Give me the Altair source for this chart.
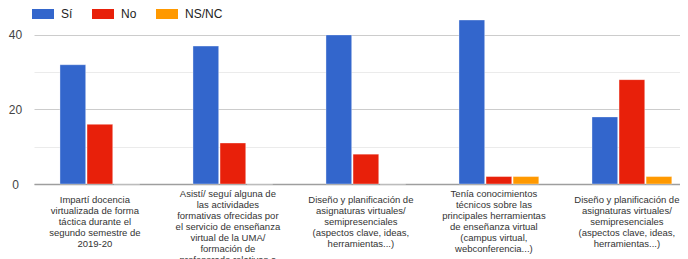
import json
import altair as alt
import pandas as pd

series = ["Sí", "No", "NS/NC"]
colors = ["#3366CC", "#E8200A", "#FF9900"]
keys = ["0", "1", "2", "3", "4"]
label_lines = [
    ["Impartí docencia", "virtualizada de forma", "táctica durante el", "segundo semestre de", "2019-20"],
    ["Asistí/ seguí alguna de", "las actividades", "formativas ofrecidas por", "el servicio de enseñanza",
     "virtual de la UMA/", "formación de", "profesorado  relativas a"],
    ["Diseño y planificación de", "asignaturas virtuales/", "semipresenciales", "(aspectos clave, ideas,",
     "herramientas...)"],
    ["Tenía conocimientos", "técnicos sobre las", "principales herramientas", "de enseñanza virtual",
     "(campus virtual,", "webconferencia...)"],
    ["Diseño y planificación de", "asignaturas virtuales/", "semipresenciales", "(aspectos clave, ideas,",
     "herramientas...)"],
]
si = [32, 37, 40, 44, 18]
no = [16, 11, 8, 2, 28]
nsnc = [0, 0, 0, 2, 2]
y_ticks = [0, 10, 20, 30, 40]

rows = []
for i, k in enumerate(keys):
    for s, vals in zip(series, [si, no, nsnc]):
        rows.append({"cat": k, "serie": s, "valor": vals[i]})
df = pd.DataFrame(rows)

lines_js = json.dumps(label_lines, ensure_ascii=False)
label_expr = lines_js + "[toNumber(datum.value)]"
# vertically centre the wrapped label block below the axis (top-aligned when it is too tall)
pad_expr = "max(4, 10 - 5.5 * (length(" + lines_js + "[toNumber(datum.value)]) - 5))"

chart = alt.Chart(df).mark_bar(
    stroke="white", strokeOpacity=0.35, strokeWidth=1
).encode(
    x=alt.X(
        "cat:N", sort=keys, title=None,
        scale=alt.Scale(paddingInner=0.4, paddingOuter=0.1285, align=0.76),
        axis=alt.Axis(
            labelExpr=label_expr, labelAngle=0, labelFont="Liberation Sans", labelFontSize=9.5,
            labelColor="#333333", labelLineHeight=11, labelBaseline="top",
            labelPadding={"condition": {"test": "datum.value != ''", "expr": pad_expr}, "value": 10},
            labelOffset=-5,
            ticks=False, tickSize=0, domainColor="#9e9e9e", domainWidth=1.6, labelLimit=0,
        ),
    ),
    xOffset=alt.XOffset("serie:N", sort=series, scale=alt.Scale(paddingInner=0.05, paddingOuter=0)),
    y=alt.Y(
        "valor:Q", title=None,
        scale=alt.Scale(domain=[0, 44], nice=False),
        axis=alt.Axis(
            values=y_ticks, labelExpr="datum.value % 20 == 0 ? datum.label : ''",
            labelFont="Liberation Sans", labelFontSize=12, labelColor="#444444",
            labelAlign="center", labelBaseline="middle", labelPadding=19,
            ticks=False, tickSize=0, domain=False,
            gridColor={"condition": {"test": "datum.value % 20 == 0", "value": "#cccccc"}, "value": "#ebebeb"},
        ),
    ),
    color=alt.Color(
        "serie:N", sort=series, title=None,
        scale=alt.Scale(domain=series, range=colors),
        legend=alt.Legend(
            orient="none", direction="horizontal", legendX=-2, legendY=-17,
            symbolType="M-1,-0.4545H1V0.4545H-1Z", symbolSize=484, symbolStrokeWidth=0,
            labelFont="Liberation Sans", labelFontSize=12, labelColor="#222222",
            labelOffset=7, columnPadding=19, padding=0,
        ),
    ),
).properties(
    width=646, height=164,
    autosize=alt.AutoSizeParams(type="none"),
    padding={"left": 26, "top": 12, "right": 0, "bottom": 75},
).configure_view(stroke=None)

chart.save("out.html", embed_options={"renderer": "svg", "actions": False})
